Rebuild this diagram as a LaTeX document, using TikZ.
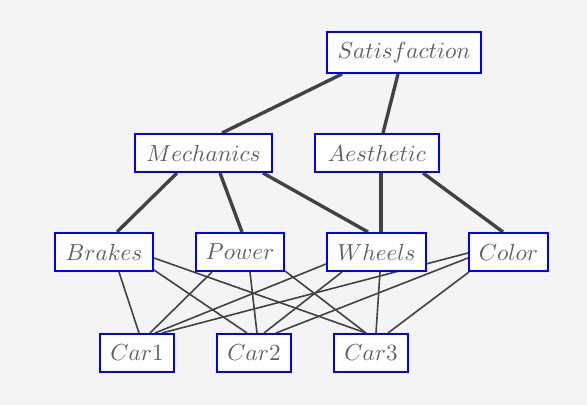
\documentclass[tikz,border=0pt]{standalone}
\usepackage{graphicx}
\usetikzlibrary{calc}
\pgfdeclarelayer{canvas}
\pgfdeclarelayer{background}
\pgfsetlayers{canvas,background,main}
\definecolor{bgc}{HTML}{F4F4F4}
\definecolor{txt}{HTML}{606060}
\definecolor{edg}{HTML}{424242}
\newcommand\lbl[1]{\scalebox{2.32}{$#1$}}
\begin{document}
\begin{tikzpicture}[x=1pt,y=-1pt,
  box/.style={draw=blue,fill=white,line width=2pt,inner sep=0pt,minimum height=38pt,
    text=txt},
  thick edge/.style={draw=edg,line width=3.4pt},
  thin edge/.style={draw=edg,line width=1.6pt}]
\begin{pgfonlayer}{canvas}
\fill[bgc] (0,0) rectangle (587,405);
\end{pgfonlayer}
\useasboundingbox (0,0) rectangle (587,405);
\node[box,minimum width=154pt,minimum height=41pt] (sat) at (404,52.5) {\lbl{Satisfaction}};
\node[box,minimum width=137pt] (mech) at (203.5,153) {\lbl{Mechanics}};
\node[box,minimum width=124pt] (aes) at (377,153) {\lbl{Aesthetic}};
\node[box,minimum width=98pt] (brakes) at (104,252) {\lbl{Brakes}};
\node[box,minimum width=88pt] (power) at (240,252) {\lbl{Power}};
\node[box,minimum width=99pt] (wheels) at (376.5,252) {\lbl{Wheels}};
\node[box,minimum width=79pt] (color) at (508.5,252) {\lbl{Color}};
\node[box,minimum width=74pt] (car1) at (137,353) {\lbl{Car1}};
\node[box,minimum width=74pt] (car2) at (254,353) {\lbl{Car2}};
\node[box,minimum width=74pt] (car3) at (371,353) {\lbl{Car3}};
\begin{pgfonlayer}{background}
\draw[thick edge] ($(sat.south)+(-62,0)$) -- ($(mech.north)+(18.5,0)$);
\draw[thick edge] ($(sat.south)+(-6,0)$) -- ($(aes.north)+(6,0)$);
\draw[thick edge] ($(mech.south)+(-26.5,0)$) -- ($(brakes.north)+(13,0)$);
\draw[thick edge] ($(mech.south)+(16.5,0)$) -- ($(power.north)+(2,0)$);
\draw[thick edge] ($(mech.south)+(59.5,0)$) -- ($(wheels.north)+(-8.5,0)$);
\draw[thick edge] ($(aes.south)+(4,0)$) -- ($(wheels.north)+(4.5,0)$);
\draw[thick edge] ($(aes.south)+(46,0)$) -- ($(color.north)+(-5.5,0)$);
\draw[thin edge] ($(brakes.south)+(15,0)$) -- ($(car1.north)+(2,0)$);
\draw[thin edge] ($(brakes.south east)+(0,-2)$) -- ($(car2.north)+(-7,0)$);
\draw[thin edge] ($(brakes.east)+(0,6)$) -- ($(car3.north)+(-5,0)$);
\draw[thin edge] ($(power.south)+(-28,0)$) -- ($(car1.north)+(13,0)$);
\draw[thin edge] ($(power.south)+(10,0)$) -- ($(car2.north)+(3,0)$);
\draw[thin edge] ($(power.south east)+(0,-1)$) -- ($(car3.north)+(-5,0)$);
\draw[thin edge] ($(wheels.west)+(0,12)$) -- ($(car1.north)+(18,0)$);
\draw[thin edge] ($(wheels.south)+(-34.5,0)$) -- ($(car2.north)+(10,0)$);
\draw[thin edge] ($(wheels.south)+(3.5,0)$) -- ($(car3.north)+(5,0)$);
\draw[thin edge] ($(color.west)+(0,1)$) -- ($(car1.north)+(25,0)$);
\draw[thin edge] ($(color.west)+(0,6)$) -- ($(car2.north)+(22,0)$);
\draw[thin edge] ($(color.south west)+(1,0)$) -- ($(car3.north)+(17,0)$);
\end{pgfonlayer}
\end{tikzpicture}
\end{document}
